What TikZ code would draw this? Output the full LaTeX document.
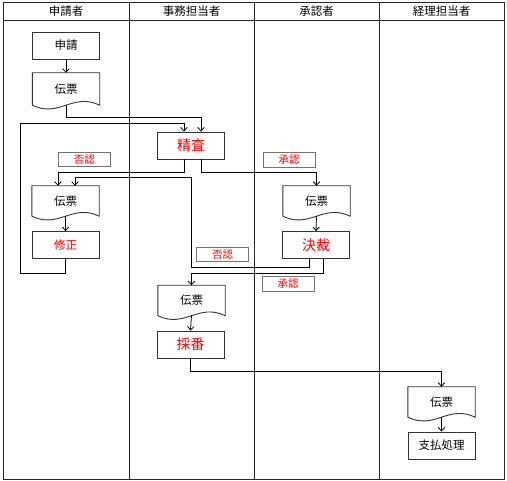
\documentclass[tikz,border=0pt]{standalone}
\usepackage{fontspec}
\newfontfamily\jp{Noto Sans CJK JP}
\usetikzlibrary{arrows.meta,calc}
\begin{document}
\begin{tikzpicture}[x=1pt,y=-1pt,
  txt/.style={font=\jp\fontsize{11.5}{13}\selectfont},
  procbox/.style={draw=black!80,line width=0.9pt,minimum width=67pt,minimum height=27pt,inner sep=0pt,txt},
  redbig/.style={procbox,text=red,font=\jp\fontsize{14}{16}\selectfont},
  redsmall/.style={procbox,text=red},
  docnode/.style={minimum width=67pt,inner sep=0pt,txt},
  docline/.style={draw=black!80,line width=0.9pt},
  lbl/.style={draw=black!55,line width=0.6pt,minimum width=52pt,minimum height=14.5pt,inner sep=0pt,text=red,font=\jp\fontsize{10.5}{12}\selectfont},
  arr/.style={draw=black,line width=0.8pt,-{Straight Barb[length=3.5pt,width=6.5pt]}},
  frame/.style={draw=black!85,line width=0.9pt},
  hdr/.style={txt,inner sep=0pt}]
\useasboundingbox[fill=white] (0,0) rectangle (507,481);
% frame and lanes
\draw[frame] (3,2) rectangle (504,479);
\draw[frame] (3,20) -- (504,20);
\draw[frame] (129,2) -- (129,479);
\draw[frame] (254,2) -- (254,479);
\draw[frame] (379,2) -- (379,479);
\node[hdr] (h1) at (66,11) {申請者};
\node[hdr] (h2) at (191.5,11) {事務担当者};
\node[hdr] (h3) at (316.5,11) {承認者};
\node[hdr] (h4) at (441.5,11) {経理担当者};
% nodes
\node[procbox] (shinsei) at (66,45.5) {申請};
\node[docnode,minimum height=32pt] (den1) at (66,89) {伝票};
\node[redbig] (seisa) at (191,145.5) {精査};
\node[docnode,minimum height=30pt] (den2) at (65.5,201) {伝票};
\node[redsmall] (shusei) at (65.5,245) {修正};
\node[docnode,minimum height=30pt] (den3) at (316.5,201) {伝票};
\node[redbig] (kessai) at (316,245) {決裁};
\node[docnode,minimum height=30pt] (den4) at (191.5,300.5) {伝票};
\node[redbig] (saiban) at (190.5,344.5) {採番};
\node[docnode,minimum height=30pt] (den5) at (441.5,402) {伝票};
\node[procbox] (shiharai) at (441.5,445.5) {支払処理};
% labels
\node[lbl] (hinin1) at (84.5,159.5) {否認};
\node[lbl] (shonin1) at (289,160) {承認};
\node[lbl] (hinin2) at (222.5,254.5) {否認};
\node[lbl] (shonin2) at (288,284) {承認};
% document outlines
\foreach \n in {den1,den2,den3,den4,den5}
  \draw[docline] (\n.south west) -- (\n.north west) -- (\n.north east) -- (\n.south east)
     .. controls +(-27,-13) and +(27,13) .. (\n.south west);
% connectors
\coordinate (loopL) at (20,123);
\coordinate (rj) at (191,177);
\draw[arr] (shinsei.south) -- (den1.north);
\draw[arr] (den1.south) -- ++(0,12) -| ([xshift=10pt]seisa.north);
\draw[arr] (shusei.south) -- ++(0,14) -| (loopL) -| ([xshift=-7pt]seisa.north);
\draw[arr] ([xshift=-7pt]seisa.south) -- ++(0,13) -| ([xshift=-7.5pt]den2.north);
\draw[arr] ([xshift=10pt]seisa.south) -- ++(0,13) -| (den3.north);
\draw[arr] (den2.south) -- (shusei.north);
\draw[arr] (den3.south) -- (kessai.north);
\draw[arr] ([xshift=-7pt]kessai.south) -- ++(0,8) -| (rj) -| ([xshift=9.5pt]den2.north);
\draw[arr] ([xshift=7pt]kessai.south) -- ++(0,14) -| (den4.north);
\draw[arr] (den4.south) -- (saiban.north);
\draw[arr] (saiban.south) -- ++(0,13) -| (den5.north);
\draw[arr] (den5.south) -- (shiharai.north);
\end{tikzpicture}
\end{document}
